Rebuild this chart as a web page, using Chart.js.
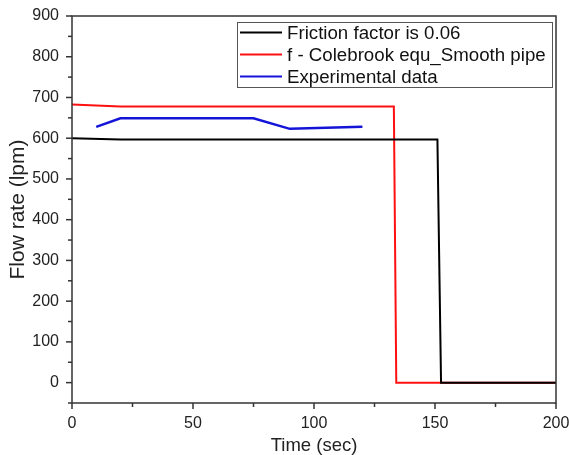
<!DOCTYPE html>
<html>
<head>
<meta charset="utf-8">
<script src="https://cdn.jsdelivr.net/npm/chart.js@4"></script>
<style>
  html, body { margin: 0; padding: 0; background: #fff; }
  #wrap { width: 569px; height: 455px; }
</style>
</head>
<body>
<div id="wrap"><canvas id="c" width="569" height="455"></canvas></div>
<script>
// values
const seriesNames = ["Friction factor is 0.06", "f - Colebrook equ_Smooth pipe", "Experimental data"];
const frictionX = [0, 20, 151, 152.5, 200];
const frictionY = [600, 597, 597, 0, 0];
const colebrookX = [0, 20, 133, 134, 200];
const colebrookY = [683, 678, 678, 0, 0];
const expX = [10, 20, 75, 90, 120];
const expY = [628, 649, 649, 623, 628];
const xTicks = [0, 50, 100, 150, 200];
const yTicks = [0, 100, 200, 300, 400, 500, 600, 700, 800, 900];

function pts(xs, ys) {
  return xs.map((x, i) => ({ x: x, y: ys[i] }));
}

const axisColor = '#333';
const font = 'Arial, "Liberation Sans", sans-serif';

// frame, major/minor ticks and the boxed legend
const framePlugin = {
  id: 'frame',
  afterDraw(chart) {
    const ctx = chart.ctx;
    const a = chart.chartArea;
    const xs = chart.scales.x, ys = chart.scales.y;
    ctx.save();
    ctx.strokeStyle = axisColor;
    ctx.lineWidth = 1.5;
    ctx.strokeRect(a.left, a.top, a.right - a.left, a.bottom - a.top);

    // x ticks: major every 50, minor at 25
    for (let v = 0; v <= 200; v += 25) {
      const px = xs.getPixelForValue(v);
      const len = v % 50 === 0 ? 6 : 4;
      ctx.beginPath();
      ctx.moveTo(px, a.bottom);
      ctx.lineTo(px, a.bottom + len);
      ctx.stroke();
    }
    // y ticks: major every 100, minor at 50
    for (let v = -50; v <= 900; v += 50) {
      const py = ys.getPixelForValue(v);
      const len = v % 100 === 0 ? 6 : 4;
      ctx.beginPath();
      ctx.moveTo(a.left, py);
      ctx.lineTo(a.left - len, py);
      ctx.stroke();
    }

    // legend box
    const lx = 237, ly = 22, lw = 315, lh = 65;
    ctx.fillStyle = '#fff';
    ctx.fillRect(lx, ly, lw, lh);
    ctx.strokeStyle = '#555';
    ctx.lineWidth = 1;
    ctx.strokeRect(lx + 0.5, ly + 0.5, lw, lh);
    ctx.font = '18.7px ' + font;
    ctx.textBaseline = 'middle';
    chart.data.datasets.forEach((ds, i) => {
      const y = ly + 10.5 + i * 22;
      ctx.strokeStyle = ds.borderColor;
      ctx.lineWidth = 2;
      ctx.beginPath();
      ctx.moveTo(lx + 3, y);
      ctx.lineTo(lx + 45, y);
      ctx.stroke();
      ctx.fillStyle = '#111';
      ctx.fillText(ds.label, lx + 50, y + 1);
    });
    ctx.restore();
  }
};

new Chart(document.getElementById('c'), {
  type: 'line',
  data: {
    datasets: [
      { label: seriesNames[0], data: pts(frictionX, frictionY), borderColor: '#000', borderWidth: 2 },
      { label: seriesNames[1], data: pts(colebrookX, colebrookY), borderColor: '#ff1010', borderWidth: 2 },
      { label: seriesNames[2], data: pts(expX, expY), borderColor: '#1414d8', borderWidth: 2.5 }
    ]
  },
  options: {
    responsive: false,
    animation: false,
    elements: { point: { radius: 0 }, line: { tension: 0 } },
    layout: { padding: { left: 0, right: 13, top: 16, bottom: 0 } },
    plugins: { legend: { display: false }, tooltip: { enabled: false } },
    scales: {
      x: {
        type: 'linear',
        min: 0, max: 200,
        afterBuildTicks(scale) { scale.ticks = xTicks.map(v => ({ value: v })); },
        grid: { display: false },
        border: { display: false },
        ticks: { color: '#222', font: { family: font, size: 16 }, padding: 3, maxRotation: 0 },
        title: { display: true, text: 'Time (sec)', color: '#222', font: { family: font, size: 18.5 }, padding: { top: 0, bottom: -2 } },
        afterFit(scale) { scale.height = 52; scale.paddingRight = 13; scale.paddingLeft = 0; }
      },
      y: {
        min: -50, max: 900,
        afterBuildTicks(scale) { scale.ticks = yTicks.map(v => ({ value: v })); },
        grid: { display: false },
        border: { display: false },
        ticks: { color: '#222', font: { family: font, size: 16 }, padding: 5 },
        title: { display: true, text: 'Flow rate (lpm)', color: '#222', font: { family: font, size: 21 }, padding: { top: 6, bottom: 0 } },
        afterFit(scale) { scale.width = 72; scale.paddingTop = 0; scale.paddingBottom = 0; }
      }
    }
  },
  plugins: [framePlugin]
});
</script>
</body>
</html>
